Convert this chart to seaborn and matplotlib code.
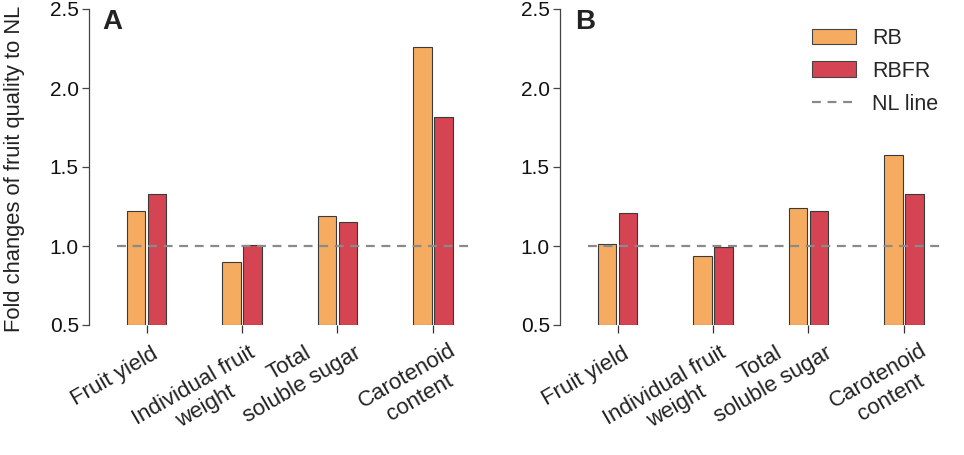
import matplotlib
matplotlib.use("Agg")
import matplotlib.pyplot as plt
import matplotlib.transforms as mtrans
import seaborn as sns
import pandas as pd
from matplotlib.patches import Patch
from matplotlib.lines import Line2D

categories = ["Fruit yield", "Individual fruit\nweight", "Total\nsoluble sugar", "Carotenoid\ncontent"]
treatments = ["RB", "RBFR"]
panel_a_rb = [1.223, 0.90, 1.19, 2.262]
panel_a_rbfr = [1.329, 1.008, 1.15, 1.818]
panel_b_rb = [1.015, 0.937, 1.242, 1.574]
panel_b_rbfr = [1.207, 0.996, 1.22, 1.329]
yticks = [0.5, 1.0, 1.5, 2.0, 2.5]
nl_level = 1.0

# styles
colors = {"RB": "#F6AC60", "RBFR": "#D54452"}
label_offsets_px = [(5, 19), (6, 17), (4, -4), (16, 15)]  # (dx right, dy below axes bottom)

sns.set_theme(style="white")
plt.rcParams["font.family"] = ["Liberation Sans", "DejaVu Sans"]

def make_df(rb, rbfr):
    rows = []
    for c, a, b in zip(categories, rb, rbfr):
        rows.append({"cat": c, "trt": "RB", "val": a})
        rows.append({"cat": c, "trt": "RBFR", "val": b})
    return pd.DataFrame(rows)

fig = plt.figure(figsize=(9.64, 4.55), dpi=100)
axA = fig.add_axes([117/964, 130/455, 356/964, 316/455])
axB = fig.add_axes([588/964, 130/455, 356/964, 316/455])

for ax, rb, rbfr, letter, lx in [(axA, panel_a_rb, panel_a_rbfr, "A", 102), (axB, panel_b_rb, panel_b_rbfr, "B", 575)]:
    df = make_df(rb, rbfr)
    sns.barplot(data=df, x="cat", y="val", hue="trt", order=categories, hue_order=treatments,
                palette=colors, saturation=1, width=0.44, gap=0.13, ax=ax, legend=False,
                edgecolor="#3a3a3a", linewidth=0.8)
    # bars rise from the bottom of the axis (0.5)
    for p in ax.patches:
        h = p.get_height()
        p.set_y(0.5)
        p.set_height(h - 0.5)
    ax.axhline(nl_level, color="#8a8a8a", ls=(0, (4, 3)), lw=1.6, zorder=5)
    ax.set_ylim(0.5, 2.5)
    ax.set_xlim(-0.31, 3.42)
    for s in ["top", "right", "bottom"]:
        ax.spines[s].set_visible(False)
    ax.spines["left"].set_position(("outward", 20.5))
    ax.spines["left"].set_color("#444444")
    ax.spines["left"].set_linewidth(0.9)
    ax.set_yticks(yticks)
    ax.set_yticklabels([f"{t:.1f}" for t in yticks])
    ax.set_xticks(range(len(categories)))
    ax.set_xticklabels([])
    ax.tick_params(axis="x", length=6, width=0.9, color="#333333", bottom=True)
    ax.tick_params(axis="y", length=5, width=0.9, color="#444444", pad=2, left=True,
                   labelsize=15, labelcolor="#111111")
    ax.set_xlabel("")
    ax.set_ylabel("")
    base = mtrans.blended_transform_factory(ax.transData, ax.transAxes)
    for i, (cat, (dx, dy)) in enumerate(zip(categories, label_offsets_px)):
        tr = base + mtrans.ScaledTranslation(dx / 100, -dy / 100, fig.dpi_scale_trans)
        ax.text(i, 0, cat, transform=tr, rotation=30, rotation_mode="anchor",
                ha="right", va="top", multialignment="center", fontsize=16,
                color="#222222", linespacing=1.25)
    fig.text(lx / 964, 1 - 9 / 455, letter, fontsize=20, fontweight="bold",
             va="top", ha="left", color="#222222")

fig.text(15 / 964, 1 - 169 / 455, "Fold changes of fruit quality to NL", rotation=90,
         ha="center", va="center", fontsize=15.8, color="#222222")

handles = [Patch(facecolor=colors["RB"], edgecolor="#444444", linewidth=0.8),
           Patch(facecolor=colors["RBFR"], edgecolor="#444444", linewidth=0.8),
           Line2D([0], [0], color="#8a8a8a", ls=(0, (4, 3)), lw=1.6)]
leg = axB.legend(handles, ["RB", "RBFR", "NL line"], loc="upper left", frameon=False,
                 fontsize=15.5, handlelength=2.05, handleheight=0.75, labelspacing=0.55,
                 handletextpad=0.75, borderaxespad=0.0, borderpad=0.0,
                 bbox_to_anchor=(812 / 964, 1 - 28 / 455), bbox_transform=fig.transFigure)

fig.savefig("out.png", dpi=100)
